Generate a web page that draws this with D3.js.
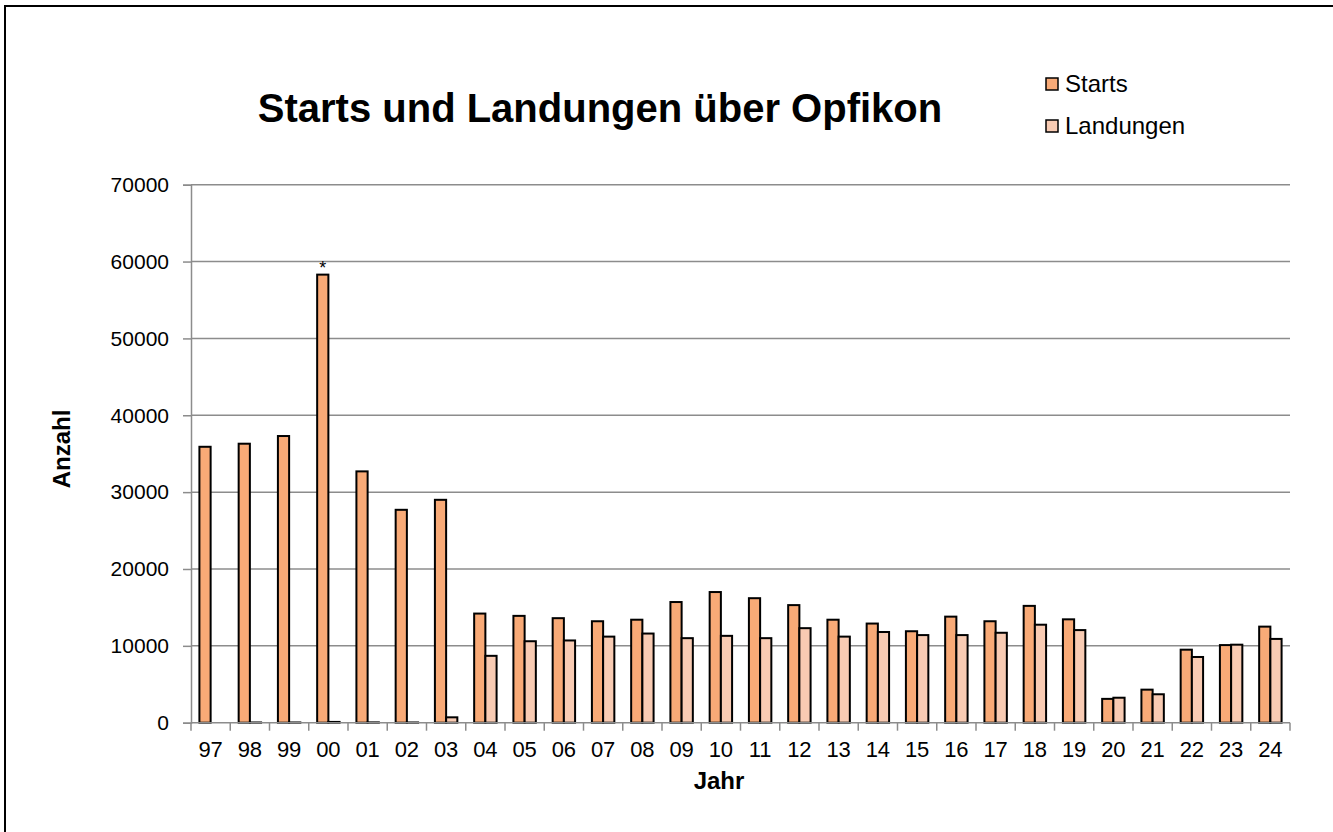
<!DOCTYPE html>
<html>
<head>
<meta charset="utf-8">
<script src="https://cdn.jsdelivr.net/npm/d3@7/dist/d3.min.js"></script>
<style>
  html, body { margin: 0; padding: 0; background: #fff; }
  svg { display: block; }
  text { font-family: "Liberation Sans", Arial, sans-serif; fill: #000; }
</style>
</head>
<body>
<svg id="chart" width="1333" height="832"></svg>
<script>
// Flight movements over Opfikon per year
const years = ["97","98","99","00","01","02","03","04","05","06","07","08","09","10",
               "11","12","13","14","15","16","17","18","19","20","21","22","23","24"];
const starts = [35900, 36300, 37300, 58300, 32700, 27700, 29000, 14200, 13900, 13600,
                13200, 13400, 15700, 17000, 16200, 15300, 13400, 12900, 11900, 13800,
                13200, 15200, 13450, 3100, 4300, 9500, 10100, 12500];
const landungen = [0, 30, 30, 100, 40, 30, 700, 8700, 10600, 10700,
                   11200, 11600, 11000, 11300, 11000, 12300, 11200, 11800, 11400, 11400,
                   11700, 12750, 12050, 3250, 3700, 8550, 10150, 10900];
const seriesNames = ["Starts", "Landungen"];
const seriesColors = ["#F8AA77", "#F8CBB3"];
const yTicks = [0, 10000, 20000, 30000, 40000, 50000, 60000, 70000];
const markedYear = "00"; // year flagged with an asterisk

const svg = d3.select("#chart");

// outer frame
svg.append("rect")
  .attr("x", 5).attr("y", 6).attr("width", 1345).attr("height", 845)
  .attr("fill", "none").attr("stroke", "#000").attr("stroke-width", 2);

const plot = { left: 191, right: 1290, top: 184.7, bottom: 722.7 };

const x = d3.scaleBand().domain(years).range([plot.left, plot.right]).paddingInner(0).paddingOuter(0);
const bw = x.bandwidth();
const barW = bw / 3.5;
const x1 = d3.scaleBand().domain(seriesNames)
  .range([(bw - 2 * barW) / 2, (bw + 2 * barW) / 2]);
const y = d3.scaleLinear().domain([0, 70000]).range([plot.bottom, plot.top]);

// horizontal gridlines
svg.append("g").selectAll("line")
  .data(yTicks.filter(d => d > 0))
  .join("line")
  .attr("x1", plot.left).attr("x2", plot.right)
  .attr("y1", d => y(d)).attr("y2", d => y(d))
  .attr("stroke", "#8c8c8c").attr("stroke-width", 1.5);

// bars
const table = years.map((yr, i) => ({ yr, vals: [starts[i], landungen[i]] }));
const groups = svg.append("g").selectAll("g")
  .data(table).join("g")
  .attr("transform", d => `translate(${x(d.yr)},0)`);
groups.selectAll("rect")
  .data(d => d.vals.map((v, k) => ({ v, k })))
  .join("rect")
  .attr("x", d => x1(seriesNames[d.k]))
  .attr("width", x1.bandwidth())
  .attr("y", d => y(d.v))
  .attr("height", d => Math.max(0, y(0) - y(d.v)))
  .attr("fill", d => seriesColors[d.k])
  .attr("stroke", "#000")
  .attr("stroke-width", d => d.v > 0 ? 2 : 0);

// asterisk above the flagged bar
const mi = years.indexOf(markedYear);
svg.append("text")
  .attr("x", x(markedYear) + x1("Starts") + x1.bandwidth() / 2)
  .attr("y", y(starts[mi]) - 1)
  .attr("text-anchor", "middle")
  .attr("font-size", 18)
  .text("*");

// y axis
const yAxis = svg.append("g")
  .attr("transform", `translate(${plot.left},0)`)
  .call(d3.axisLeft(y).tickValues(yTicks).tickFormat(d3.format("d")).tickSize(8).tickPadding(14));
yAxis.select(".domain").attr("stroke", "#8c8c8c").attr("stroke-width", 1.5);
yAxis.selectAll(".tick line").attr("stroke", "#8c8c8c").attr("stroke-width", 1.5);
yAxis.selectAll(".tick text").attr("font-size", 21).attr("font-family", "Liberation Sans, Arial, sans-serif").attr("fill", "#000");

// x axis: ticks sit on category boundaries
const xAxisG = svg.append("g").attr("transform", `translate(0,${plot.bottom})`);
xAxisG.append("line")
  .attr("x1", plot.left).attr("x2", plot.right)
  .attr("stroke", "#8c8c8c").attr("stroke-width", 1.5);
const boundaries = years.map(yr => x(yr)).concat([plot.right]);
xAxisG.selectAll("line.b").data(boundaries).join("line")
  .attr("class", "b")
  .attr("x1", d => d).attr("x2", d => d)
  .attr("y1", 0).attr("y2", 8)
  .attr("stroke", "#8c8c8c").attr("stroke-width", 1.5);
xAxisG.selectAll("text").data(years).join("text")
  .attr("x", d => x(d) + bw / 2)
  .attr("y", 34)
  .attr("text-anchor", "middle")
  .attr("font-size", 22)
  .text(d => d);

// titles
svg.append("text")
  .attr("x", 600).attr("y", 122)
  .attr("text-anchor", "middle")
  .attr("font-size", 40).attr("font-weight", "bold")
  .text("Starts und Landungen über Opfikon");

svg.append("text")
  .attr("transform", "translate(70,449) rotate(-90)")
  .attr("text-anchor", "middle")
  .attr("font-size", 24).attr("font-weight", "bold")
  .text("Anzahl");

svg.append("text")
  .attr("x", 719).attr("y", 789)
  .attr("text-anchor", "middle")
  .attr("font-size", 24).attr("font-weight", "bold")
  .text("Jahr");

// legend
const legend = svg.append("g").attr("transform", "translate(1046,78)");
const li = legend.selectAll("g").data(seriesNames).join("g")
  .attr("transform", (d, i) => `translate(0,${i * 42})`);
li.append("rect")
  .attr("width", 12).attr("height", 12)
  .attr("fill", (d, i) => seriesColors[i])
  .attr("stroke", "#000").attr("stroke-width", 1.5);
li.append("text")
  .attr("x", 19).attr("y", 14)
  .attr("font-size", 24)
  .text(d => d);
</script>
</body>
</html>
